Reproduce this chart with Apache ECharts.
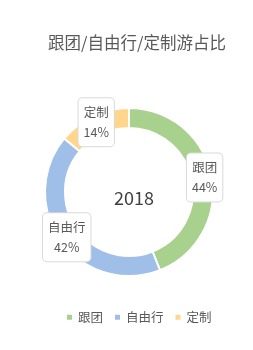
<!DOCTYPE html>
<html><head><meta charset="utf-8">
<script src="https://cdn.jsdelivr.net/npm/echarts@6/dist/echarts.min.js"></script>
<style>html,body{margin:0;padding:0;background:#fff}#c{width:253px;height:350px}</style>
</head><body><div id="c"></div>
<script>
var titleText = '跟团/自由行/定制游占比';
var centerText = '2018';
var categories = ['跟团', '自由行', '定制'];
var values = [44, 42, 14];
var colors = ['#a9d18e', '#9fbfe8', '#ffd68c'];

var chart = echarts.init(document.getElementById('c'));
var font = '"Noto Sans CJK SC", sans-serif';
chart.setOption({
  animation: false,
  color: colors,
  title: [{
    text: titleText, left: 132, textAlign: 'center', top: 29,
    textStyle: {fontFamily: font, fontSize: 16.5, fontWeight: 'normal', color: '#595959'}
  }, {
    text: centerText, left: 129, top: 193, textAlign: 'center', textVerticalAlign: 'middle',
    textStyle: {fontFamily: font, fontSize: 18, fontWeight: 'normal', color: '#404040'}
  }],
  legend: {
    data: categories, left: 60, top: 306, icon: 'rect', itemWidth: 7, itemHeight: 7,
    itemGap: 10, textStyle: {fontFamily: font, fontSize: 12.5, color: '#595959'}
  },
  series: [{
    type: 'pie', center: [129, 192], radius: [64, 84], startAngle: 90, clockwise: true,
    itemStyle: {borderColor: '#fff', borderWidth: 2},
    label: {
      position: 'inside', formatter: function (p) { return p.name + '\n' + p.value + '%'; },
      fontFamily: font, fontSize: 12.5, lineHeight: 20, color: '#595959',
      backgroundColor: '#fff', borderColor: '#d9d9d9', borderWidth: 1, borderRadius: 4,
      padding: [4, 5, 4, 5]
    },
    labelLine: {show: false},
    data: categories.map(function (c, i) { return {name: c, value: values[i]}; })
  }]
});
</script></body></html>
